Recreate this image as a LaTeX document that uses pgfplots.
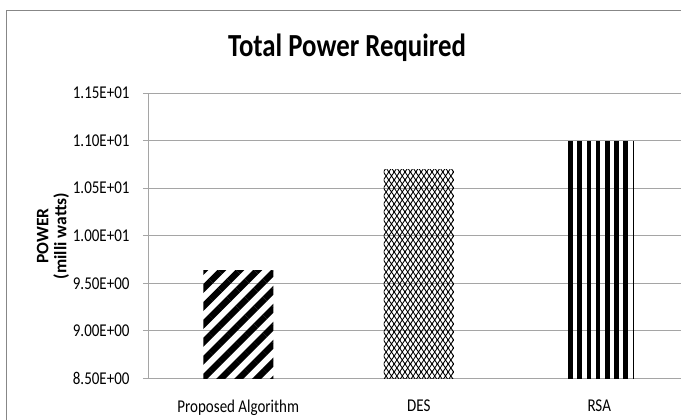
\documentclass[border=0pt]{standalone}
\usepackage{fontspec}
\setmainfont{Carlito}
\usepackage{pgfplots}
\pgfplotsset{compat=1.18}
\usetikzlibrary{patterns,patterns.meta}

% fine diamond mesh used for the DES bar
\pgfdeclarepatternformonly{diamondmesh}{\pgfpoint{-1pt}{-1pt}}{\pgfpoint{6.4pt}{9pt}}{\pgfpoint{5.4pt}{8pt}}{%
  \pgfsetlinewidth{0.85pt}%
  \pgfpathmoveto{\pgfpoint{-0.675pt}{-1pt}}\pgfpathlineto{\pgfpoint{6.075pt}{9pt}}%
  \pgfpathmoveto{\pgfpoint{-0.675pt}{9pt}}\pgfpathlineto{\pgfpoint{6.075pt}{-1pt}}%
  \pgfusepath{stroke}}

\definecolor{gridgray}{RGB}{165,165,165}
\definecolor{framegray}{RGB}{135,135,135}

\begin{document}
\begin{tikzpicture}
% chart frame
\draw[framegray, line width=1.6pt] (6.5pt,409.5pt) rectangle (690pt,-30pt);

\node[yscale=1.2, transform shape, font=\fontsize{26.8}{30}\selectfont\bfseries] at (347pt,372pt) {Total Power Required};
\node[rotate=90, align=center, font=\fontsize{17.5}{18}\selectfont\bfseries] at (53pt,184pt) {POWER\\(milli watts)};

\begin{axis}[
  at={(148pt,41.5pt)}, anchor=south west,
  scale only axis,
  width=541.5pt, height=285.5pt,
  xmin=-0.5, xmax=2.5,
  ymin=8.5, ymax=11.5,
  axis lines=left,
  axis line style={-, draw=gridgray, line width=0.9pt},
  ymajorgrids,
  grid style={gridgray, line width=0.9pt},
  ytick={8.5,9,9.5,10,10.5,11,11.5},
  yticklabels={8.50E+00,9.00E+00,9.50E+00,1.00E+01,1.05E+01,1.10E+01,1.15E+01},
  xtick={0,1,2},
  xticklabels={Proposed Algorithm,DES,RSA},
  tick align=outside,
  major tick length=5pt,
  ytick style={draw=gridgray, line width=0.9pt},
  xtick style={draw=none},
  ticklabel style={font=\fontsize{15}{18}\selectfont, yscale=1.2, transform shape},
  xticklabel style={yshift=-10pt},
  yticklabel style={xshift=-10pt},
]
\addplot[ybar, bar width=70pt, bar shift=0pt, draw=none,
  pattern={Lines[angle=45, distance=12.7pt, line width=6.4pt]}, pattern color=black]
  coordinates {(0,9.64)};
\addplot[ybar, bar width=70pt, bar shift=0pt, draw=none,
  pattern=diamondmesh, pattern color=black]
  coordinates {(1,10.70)};
\addplot[ybar, bar width=69pt, bar shift=0pt, draw=none,
  pattern={Lines[angle=90, distance=9.2pt, line width=4.6pt]}, pattern color=black]
  coordinates {(2,10.99)};
\end{axis}

\pgfresetboundingbox
\useasboundingbox (0pt,0pt) rectangle (681pt,420pt);
\end{tikzpicture}
\end{document}
